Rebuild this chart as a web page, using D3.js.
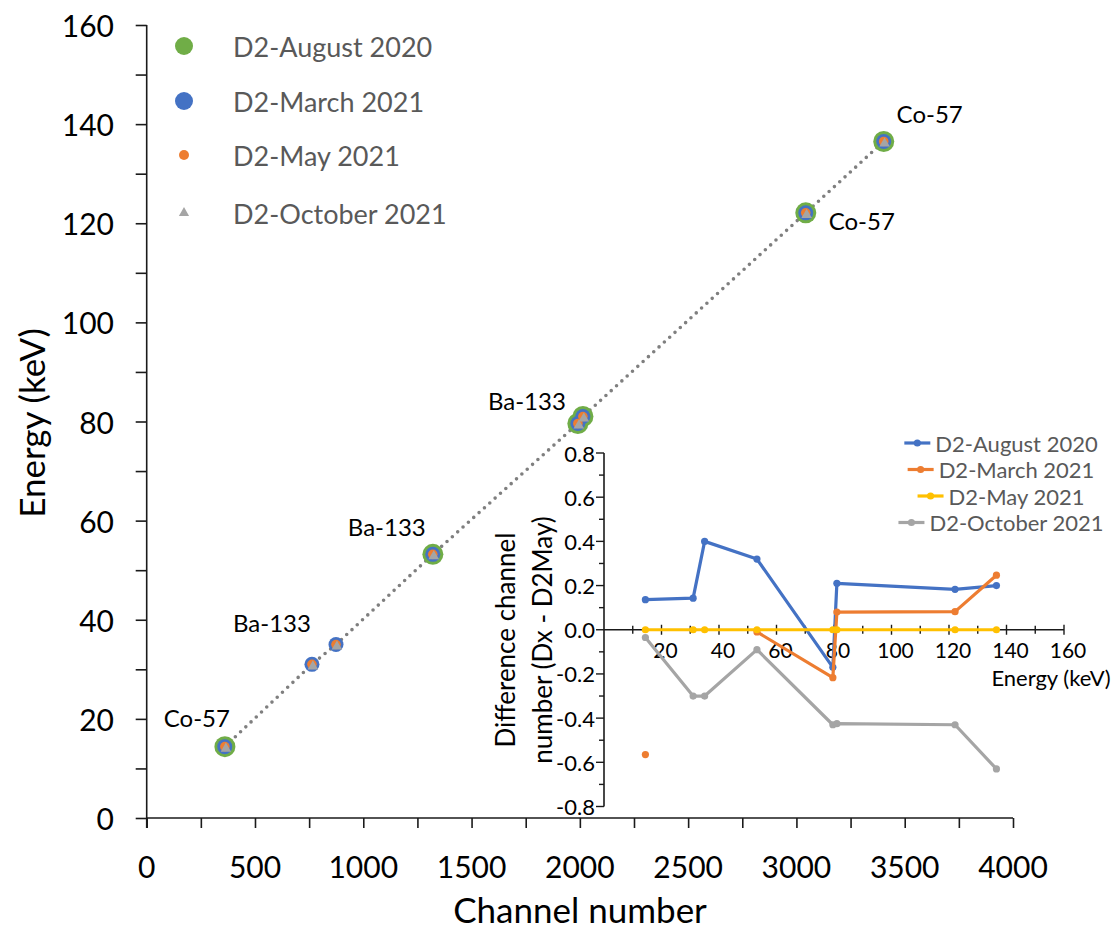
<!DOCTYPE html>
<html><head><meta charset="utf-8">
<script src="https://cdn.jsdelivr.net/npm/d3@7"></script>
<style>body{margin:0;background:#fff;} text{font-family:Lato,"Open Sans",sans-serif;}</style>
</head><body>
<svg id="c" width="1115" height="929"></svg>
<script>
// ---------- data ----------
const energies = [14.4, 31.0, 35.0, 53.2, 79.6, 81.0, 122.1, 136.5];
const isotopes = ["Co-57","Ba-133","Ba-133","Ba-133","Ba-133","Ba-133","Co-57","Co-57"];
const seriesNames = ["D2-August 2020","D2-March 2021","D2-May 2021","D2-October 2021"];
// main chart: channel number per series (null = not plotted)
const chAug = [361.1, null, null, 1321.3, 1990.8, 2014.2, 3043.2, 3403.2];
const chMar = [360.4, 763.0, 874.0, 1321.0, 1990.8, 2014.1, 3043.1, 3403.3];
const chMay = [361.0, 763.0, 874.0, 1321.0, 1991.0, 2014.0, 3043.0, 3403.0];
const chOct = [361.0, 762.7, 873.7, 1320.9, 1990.6, 2013.6, 3042.6, 3402.4];
// inset: difference channel (Dx - D2May)
const dAug = [0.136, 0.143, 0.40, 0.32, -0.17, 0.21, 0.183, 0.20];
const dMar = [-0.565, null, null, -0.01, -0.217, 0.08, 0.082, 0.247];
const dMay = [0, 0, 0, 0, 0, 0, 0, 0];
const dOct = [-0.035, -0.30, -0.30, -0.09, -0.43, -0.425, -0.43, -0.63];
// annotation labels (index into energies)
const annIdx = [0, 1, 3, 4, 6, 7];
const annText = ["Co-57","Ba-133","Ba-133","Ba-133","Co-57","Co-57"];

const mainXTicks = [0,500,1000,1500,2000,2500,3000,3500,4000];
const mainYTicks = [0,20,40,60,80,100,120,140,160];
const insetXTicks = [20,40,60,80,100,120,140,160];
const insetYTicks = [-0.8,-0.6,-0.4,-0.2,0,0.2,0.4,0.6,0.8];

const svg = d3.select("#c");
const green="#70AD47", blue="#4472C4", orange="#ED7D31", gray="#A5A5A5", yellow="#FFC000";

// ---------- main chart ----------
const x = d3.scaleLinear().domain([0,4000]).range([146.7,1013]);
const y = d3.scaleLinear().domain([0,160]).range([818,25]);

const gx = svg.append("g").attr("transform","translate(0,818)")
  .call(d3.axisBottom(x).tickValues(d3.range(0,4001,250)).tickSize(10).tickFormat(""));
const gy = svg.append("g").attr("transform","translate(146.7,0)")
  .call(d3.axisLeft(y).tickValues(d3.range(0,161,10)).tickSize(11).tickFormat(""));
[gx,gy].forEach(g=>{g.selectAll("path,line").attr("stroke","#1a1a1a").attr("stroke-width",1.6);});
gx.select(".domain").attr("d","M146.7,0H1013");
gy.select(".domain").attr("d","M0,25V828");

svg.append("g").selectAll("text").data(mainXTicks).join("text")
  .attr("x",d=>x(d)).attr("y",866).attr("text-anchor","middle").attr("dominant-baseline","central")
  .attr("font-size",30).attr("fill","#000").text(d=>d);
svg.append("g").selectAll("text").data(mainYTicks).join("text")
  .attr("x",114).attr("y",d=>y(d)).attr("text-anchor","end").attr("dominant-baseline","central")
  .attr("font-size",30).attr("fill","#000").text(d=>d);

svg.append("text").attr("x",580).attr("y",909).attr("text-anchor","middle").attr("dominant-baseline","central")
  .attr("font-size",35).text("Channel number");
svg.append("text").attr("transform","translate(31,423) rotate(-90)").attr("text-anchor","middle")
  .attr("dominant-baseline","central").attr("font-size",35).text("Energy (keV)");

// dotted trend line
const linePts = energies.map((e,i)=>[chMay[i],e]);
svg.append("path").datum(linePts)
  .attr("d",d3.line().x(d=>x(d[0])).y(d=>y(d[1])))
  .attr("fill","none").attr("stroke","#7F7F7F").attr("stroke-width",3.6)
  .attr("stroke-linecap","round").attr("stroke-dasharray","0 7.2");

function pts(ch){return energies.map((e,i)=>({c:ch[i],e})).filter(d=>d.c!=null);}
svg.append("g").selectAll("circle").data(pts(chAug)).join("circle")
  .attr("cx",d=>x(d.c)).attr("cy",d=>y(d.e)).attr("r",10.5).attr("fill",green);
svg.append("g").selectAll("circle").data(pts(chMar)).join("circle")
  .attr("cx",d=>x(d.c)).attr("cy",d=>y(d.e)).attr("r",7.5).attr("fill",blue);
svg.append("g").selectAll("circle").data(pts(chMay)).join("circle")
  .attr("cx",d=>x(d.c)).attr("cy",d=>y(d.e)).attr("r",4.8).attr("fill",orange);
const tri = d3.symbol().type(d3.symbolTriangle).size(48);
svg.append("g").selectAll("path").data(pts(chOct)).join("path")
  .attr("transform",d=>`translate(${x(d.c)+1},${y(d.e)+2})`).attr("d",tri).attr("fill",gray);

// annotations
const annOff = [[-28,-29],[-40,-42],[-46,-28],[-51,-23],[56,8],[46,-28]];
svg.append("g").selectAll("text").data(annIdx).join("text")
  .attr("x",(d,i)=>x(chMay[d])+annOff[i][0]).attr("y",(d,i)=>y(energies[d])+annOff[i][1])
  .attr("text-anchor","middle").attr("dominant-baseline","central").attr("font-size",24)
  .attr("fill","#000").text((d,i)=>annText[i]);

// main legend
const legY = [46,101,155,213];
const lg = svg.append("g");
lg.append("circle").attr("cx",184).attr("cy",legY[0]).attr("r",9).attr("fill",green);
lg.append("circle").attr("cx",184).attr("cy",legY[1]).attr("r",9).attr("fill",blue);
lg.append("circle").attr("cx",184).attr("cy",legY[2]).attr("r",5).attr("fill",orange);
lg.append("path").attr("transform",`translate(184,${legY[3]})`).attr("d",d3.symbol().type(d3.symbolTriangle).size(45)).attr("fill",gray);
lg.selectAll("text").data(seriesNames).join("text")
  .attr("x",233).attr("y",(d,i)=>legY[i]).attr("dominant-baseline","central")
  .attr("font-size",27).attr("fill","#595959").text(d=>d);

// ---------- inset ----------
const xi = d3.scaleLinear().domain([0,160]).range([604,1064]);
const yi = d3.scaleLinear().domain([-0.8,0.8]).range([806.5,453]);
const ig = svg.append("g");
// y axis
ig.append("line").attr("x1",xi(0)).attr("x2",xi(0)).attr("y1",yi(-0.8)).attr("y2",yi(0.8))
  .attr("stroke","#1a1a1a").attr("stroke-width",1.6);
ig.selectAll("line.yt").data(d3.range(-8,9)).join("line").attr("class","yt")
  .attr("x1",d=>xi(0)-(d%2===0?8:5)).attr("x2",xi(0)).attr("y1",d=>yi(d/10)).attr("y2",d=>yi(d/10))
  .attr("stroke","#1a1a1a").attr("stroke-width",1.4);
ig.selectAll("text.yl").data(insetYTicks).join("text").attr("class","yl")
  .attr("x",595).attr("y",d=>yi(d)).attr("text-anchor","end").attr("dominant-baseline","central")
  .attr("font-size",22).text(d=>d3.format(".1f")(d).replace("−","-"));
// x axis
ig.append("line").attr("x1",xi(0)).attr("x2",xi(160)).attr("y1",yi(0)).attr("y2",yi(0))
  .attr("stroke","#1a1a1a").attr("stroke-width",1.6);
ig.selectAll("line.xt").data(d3.range(10,161,10)).join("line").attr("class","xt")
  .attr("x1",d=>xi(d)).attr("x2",d=>xi(d)).attr("y1",d=>yi(0)-(d%20===0?5:4)).attr("y2",d=>yi(0)+(d%20===0?5:4))
  .attr("stroke","#1a1a1a").attr("stroke-width",1.4);
ig.selectAll("text.xl").data(insetXTicks).join("text").attr("class","xl")
  .attr("x",d=>xi(d)+4).attr("y",yi(0)+20).attr("text-anchor","middle").attr("dominant-baseline","central")
  .attr("font-size",21).text(d=>d);
ig.append("text").attr("x",1051).attr("y",677).attr("text-anchor","middle").attr("dominant-baseline","central")
  .attr("font-size",22).text("Energy (keV)");
ig.append("text").attr("transform","translate(505,640) rotate(-90)").attr("text-anchor","middle")
  .attr("dominant-baseline","central").attr("font-size",26).text("Difference channel");
ig.append("text").attr("transform","translate(542,640) rotate(-90)").attr("text-anchor","middle")
  .attr("dominant-baseline","central").attr("font-size",26).text("number (Dx - D2May)");

const insetSeries = [[dAug,blue],[dMar,orange],[dMay,yellow],[dOct,gray]];
const lineI = d3.line().defined(d=>d.v!=null).x(d=>xi(d.e)).y(d=>yi(d.v));
insetSeries.forEach(([vals,col])=>{
  const data = energies.map((e,i)=>({e,v:vals[i]}));
  ig.append("path").datum(data).attr("d",lineI).attr("fill","none").attr("stroke",col)
    .attr("stroke-width",3.2).attr("stroke-linejoin","round");
  ig.append("g").selectAll("circle").data(data.filter(d=>d.v!=null)).join("circle")
    .attr("cx",d=>xi(d.e)).attr("cy",d=>yi(d.v)).attr("r",3.6).attr("fill",col);
});

// inset legend
const ilY = [443,469.5,496,522.5];
const ilCols = [blue,orange,yellow,gray];
seriesNames.forEach((n,i)=>{
  const g = ig.append("g");
  const t = g.append("text").attr("x",0).attr("y",ilY[i]).attr("dominant-baseline","central")
    .attr("font-size",22).attr("fill","#595959").text(n);
  const tw = t.node().getComputedTextLength();
  const total = 26 + 5 + tw;
  const x0 = 1001 - total/2;
  g.append("line").attr("x1",x0).attr("x2",x0+26).attr("y1",ilY[i]).attr("y2",ilY[i])
    .attr("stroke",ilCols[i]).attr("stroke-width",3.2);
  g.append("circle").attr("cx",x0+13).attr("cy",ilY[i]).attr("r",3.6).attr("fill",ilCols[i]);
  t.attr("x",x0+31);
});
</script>
</body></html>
